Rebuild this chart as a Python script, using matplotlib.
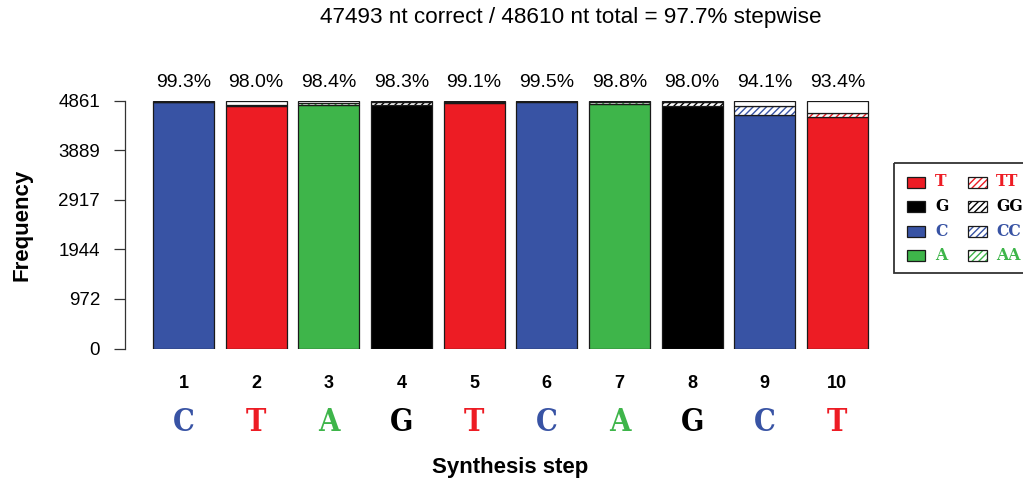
import matplotlib
matplotlib.use("Agg")
import matplotlib.pyplot as plt
from matplotlib.patches import Rectangle

plt.rcParams["font.family"] = ["Liberation Sans", "DejaVu Sans"]
plt.rcParams["hatch.linewidth"] = 1.0

# per-step read counts (nucleotides)
steps = [1, 2, 3, 4, 5, 6, 7, 8, 9, 10]
bases = ["C", "T", "A", "G", "T", "C", "A", "G", "C", "T"]
correct = [4829, 4766, 4785, 4778, 4817, 4837, 4803, 4764, 4574, 4540]
doubled = [12, 20, 40, 55, 20, 10, 25, 65, 190, 70]
step_total = 4861
n_total = 48610
y_ticks = [0, 972, 1944, 2917, 3889, 4861]

legend_bases = ["T", "G", "C", "A"]
base_colors = {"T": "#ED1C24", "G": "#000000", "C": "#3853A4", "A": "#3EB54A"}
base_font = dict(family="DejaVu Serif", fontweight="bold", fontstretch="condensed")

W, H = 1023, 479
AX_LEFT, AX_RIGHT = 125, 880
AX_TOP, AX_BOTTOM = 100.7, 348.5
BAR0, PITCH = 183.4, 72.67
edge = "#1a1a1a"

fig = plt.figure(figsize=(W / 100, H / 100), dpi=100)
ax = fig.add_axes([AX_LEFT / W, 1 - AX_BOTTOM / H,
                   (AX_RIGHT - AX_LEFT) / W, (AX_BOTTOM - AX_TOP) / H])


def ay(py):
    # figure pixel row -> axes fraction
    return (AX_BOTTOM - py) / (AX_BOTTOM - AX_TOP)


x = list(range(len(steps)))
width = 0.84
other = [step_total - c - d for c, d in zip(correct, doubled)]
cols = [base_colors[b] for b in bases]
dbl_bottom = correct
rest_bottom = [c + d for c, d in zip(correct, doubled)]

ax.bar(x, correct, width, color=cols, edgecolor=edge, linewidth=0.9)
ax.bar(x, doubled, width, bottom=dbl_bottom, color="white", edgecolor=cols,
       hatch="/////", linewidth=0)
ax.bar(x, doubled, width, bottom=dbl_bottom, fill=False, edgecolor=edge, linewidth=0.9)
ax.bar(x, other, width, bottom=rest_bottom, color="white", edgecolor=edge, linewidth=0.9)

ax.set_xlim((AX_LEFT - BAR0) / PITCH, (AX_RIGHT - BAR0) / PITCH)
ax.set_ylim(0, step_total)
ax.set_yticks(y_ticks)
ax.set_yticklabels([str(t) for t in y_ticks])
ax.tick_params(axis="y", length=8, width=0.9, pad=10, labelsize=13.5, color="#333333")
ax.tick_params(axis="x", bottom=False, labelbottom=False)
for side in ["top", "right", "bottom"]:
    ax.spines[side].set_visible(False)
ax.spines["left"].set_color("#333333")
ax.spines["left"].set_linewidth(0.9)

tr = ax.get_xaxis_transform()
for xi, c, b, s in zip(x, correct, bases, steps):
    ax.text(xi, ay(82.5), f"{100 * c / step_total:.1f}%", transform=tr,
            ha="center", va="center", fontsize=14, clip_on=False)
    ax.text(xi, ay(384), str(s), transform=tr, ha="center", va="center",
            fontsize=13, fontweight="bold", clip_on=False)
    ax.text(xi, ay(423), b, transform=tr, ha="center", va="center",
            fontsize=22, color=base_colors[b], clip_on=False, **base_font)

n_correct = sum(correct)
fig.text(571 / W, 1 - 17 / H,
         f"{n_correct} nt correct / {n_total} nt total = {100 * n_correct / n_total:.1f}% stepwise",
         ha="center", va="center", fontsize=16.2)
fig.text(510 / W, 1 - 467 / H, "Synthesis step", ha="center", va="center",
         fontsize=16, fontweight="bold")
fig.text(22 / W, 1 - (AX_TOP + AX_BOTTOM) / 2 / H, "Frequency", rotation=90,
         ha="center", va="center", fontsize=16, fontweight="bold")

# legend box drawn in pixel space
lg = fig.add_axes([0, 0, 1, 1])
lg.set_xlim(0, W)
lg.set_ylim(H, 0)
lg.axis("off")
lg.add_patch(Rectangle((894, 163), 140, 110, fill=False, edgecolor="#333333", linewidth=1.3))
for i, b in enumerate(legend_bases):
    yc = 182 + 24.6 * i
    col = base_colors[b]
    lg.add_patch(Rectangle((907, yc - 5.5), 18, 11, facecolor=col, edgecolor=edge, linewidth=0.9))
    lg.text(935, yc, b, color=col, fontsize=12.5, ha="left", va="center", **base_font)
    lg.add_patch(Rectangle((968, yc - 5.5), 19, 11, facecolor="white", edgecolor=col,
                           hatch="/////", linewidth=0))
    lg.add_patch(Rectangle((968, yc - 5.5), 19, 11, fill=False, edgecolor=edge, linewidth=0.9))
    lg.text(996, yc, b + b, color=col, fontsize=12.5, ha="left", va="center", **base_font)

fig.savefig("out.png", dpi=100)
